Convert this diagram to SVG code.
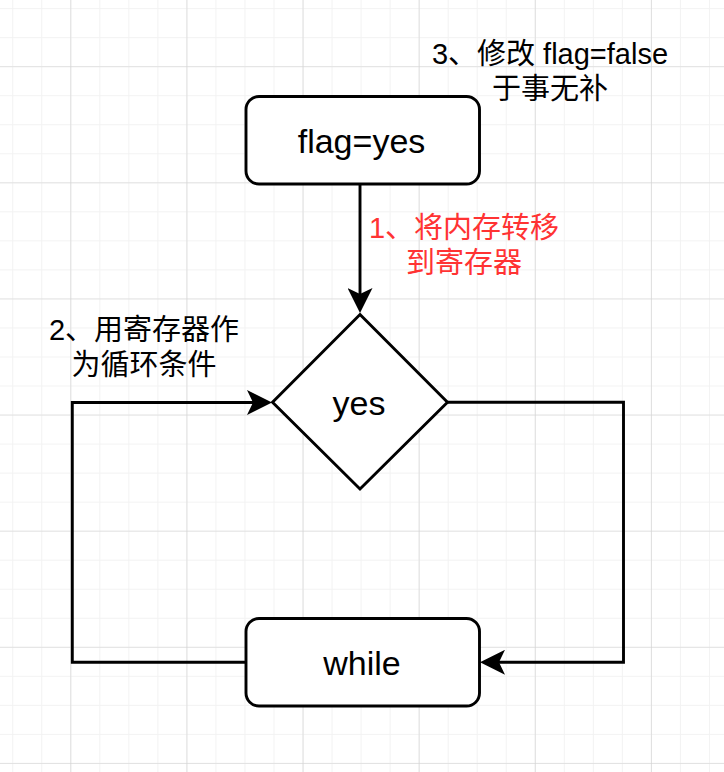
<svg xmlns="http://www.w3.org/2000/svg" width="724" height="772" viewBox="0 0 724 772">
  <style>
    .node { fill: #ffffff; stroke: #000000; stroke-width: 2.9; }
    .edge { fill: none; stroke: #000000; stroke-width: 2.9; }
    .ntext { font-family: "Liberation Sans", Arial, sans-serif; font-size: 34px; fill: #000000; text-anchor: middle; }
    .label { font-family: "Liberation Sans", "Noto Sans CJK SC", sans-serif; font-size: 29px; fill: #000000; text-anchor: middle; }
    .red { fill: #FF3333; }
  </style>
  <defs>
    <pattern id="minor" patternUnits="userSpaceOnUse" x="12.24" y="8.14" width="29.03" height="29.03">
      <path d="M0,0 V29.03 M0,0 H29.03" fill="none" stroke="#f2f2f2" stroke-width="2"/>
    </pattern>
    <pattern id="major" patternUnits="userSpaceOnUse" x="70.3" y="66.2" width="116.12" height="116.12">
      <path d="M0,0 V116.12 M0,0 H116.12" fill="none" stroke="#d0d0d0" stroke-width="1.2"/>
    </pattern>
    <marker id="arrow" markerUnits="userSpaceOnUse" viewBox="0 0 25 25" markerWidth="25" markerHeight="25" refX="6" refY="12.5" orient="auto">
      <path d="M0,0 L25,12.5 L0,25 L6,12.5 Z" fill="#000000"/>
    </marker>
  </defs>
  <rect width="724" height="772" fill="#ffffff"/>
  <rect width="724" height="772" fill="url(#minor)"/>
  <rect width="724" height="772" fill="url(#major)"/>

  <g id="connectors">
    <path id="e1" class="edge" d="M360,184 V294" marker-end="url(#arrow)"/>
    <path id="e2" class="edge" d="M246,662.3 H72.3 V402.5 H253" marker-end="url(#arrow)"/>
    <path id="e3" class="edge" d="M447.5,402.3 H623.5 V662.3 H499" marker-end="url(#arrow)"/>
  </g>

  <g id="node-flag">
    <rect class="node" x="246" y="96.5" width="233.5" height="87.5" rx="13" ry="13"/>
    <text class="ntext" x="361.5" y="152.5">flag=yes</text>
  </g>

  <g id="node-yes">
    <polygon class="node" points="360,314.5 447.5,402.3 360,489 272.5,402.3"/>
    <text class="ntext" x="359" y="415">yes</text>
  </g>

  <g id="node-while">
    <rect class="node" x="246" y="618.5" width="233.5" height="87.5" rx="13" ry="13"/>
    <text class="ntext" x="362" y="675">while</text>
  </g>

  <g id="label-3">
    <text class="label" x="550" y="63.5">3、修改 flag=false</text>
    <text class="label" x="550" y="98.5">于事无补</text>
  </g>

  <g id="label-1">
    <text class="label red" x="464" y="238">1、将内存转移</text>
    <text class="label red" x="464" y="272.8">到寄存器</text>
  </g>

  <g id="label-2">
    <text class="label" x="144" y="340">2、用寄存器作</text>
    <text class="label" x="144" y="375">为循环条件</text>
  </g>
</svg>
